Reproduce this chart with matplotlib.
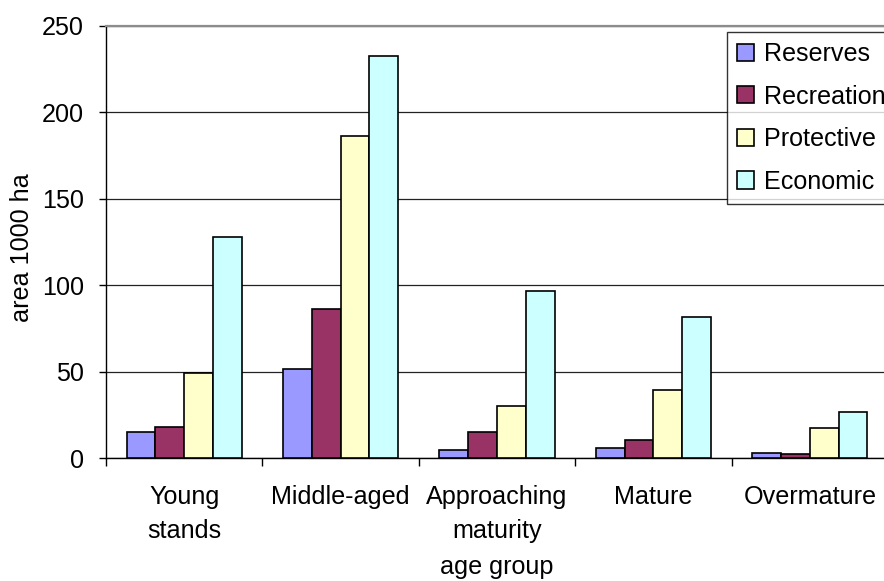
import matplotlib
matplotlib.use("Agg")
import matplotlib.pyplot as plt
import numpy as np
from matplotlib.ticker import FixedLocator, NullFormatter

plt.rcParams["font.family"] = ["Liberation Sans", "DejaVu Sans"]

# Forest area by age group and forest category (thousand ha)
age_groups = ["Young\nstands", "Middle-aged", "Approaching\nmaturity", "Mature", "Overmature"]
series_names = ["Reserves", "Recreation", "Protective", "Economic"]
reserves = [15, 51.5, 4.6, 5.8, 3.3]
recreation = [18.3, 86.2, 15, 10.4, 2.3]
protective = [49.4, 186.2, 30, 39.4, 17.3]
economic = [127.7, 232.5, 96.7, 81.9, 26.5]
y_ticks = [0, 50, 100, 150, 200, 250]

colors = ["#9999FF", "#993366", "#FFFFCC", "#CCFFFF"]
series = [reserves, recreation, protective, economic]

W, H = 884, 581
fig = plt.figure(figsize=(W / 100, H / 100), dpi=100)
ax_left, ax_right, ax_top, ax_bottom = 106, 888, 25.7, 458.3
ax = fig.add_axes([ax_left / W, 1 - ax_bottom / H,
                   (ax_right - ax_left) / W, (ax_bottom - ax_top) / H])

fs = 18.1
x = np.arange(len(age_groups))
bar_w = 0.184
for i, (vals, name, c) in enumerate(zip(series, series_names, colors)):
    ax.bar(x + (i - 1.5) * bar_w, vals, width=bar_w, color=c,
           edgecolor="black", linewidth=1.2, label=name, zorder=3)

ax.set_xlim(-0.5, len(age_groups) - 0.5)
ax.set_ylim(0, 250)

# gridlines
ax.yaxis.set_major_locator(FixedLocator(y_ticks))
ax.grid(axis="y", color="#222222", linewidth=0.9, zorder=0)
ax.grid(axis="x", visible=False)
ax.set_axisbelow(True)

# spines
ax.spines["top"].set_color("#8c8c8c")
ax.spines["top"].set_linewidth(1.6)
ax.spines["right"].set_visible(False)
ax.spines["left"].set_color("black")
ax.spines["left"].set_linewidth(1.0)
ax.spines["bottom"].set_color("black")
ax.spines["bottom"].set_linewidth(1.0)

# ticks
ax.set_xticks(x)
ax.set_xticklabels(age_groups, fontsize=fs)
for lbl in ax.get_xticklabels():
    lbl.set_linespacing(1.55)
ax.tick_params(axis="x", which="major", length=0, pad=19)
ax.xaxis.set_minor_locator(FixedLocator(np.arange(-0.5, len(age_groups), 1.0)))
ax.xaxis.set_minor_formatter(NullFormatter())
ax.tick_params(axis="x", which="minor", length=6, width=1.0, direction="out", color="black")
ax.tick_params(axis="y", length=5, width=1.0, direction="out", pad=11, labelsize=fs)

# axis labels
ax.set_xlabel("age group", fontsize=fs)
ax.xaxis.label.set_va("baseline")
ax.xaxis.set_label_coords(0.5, (ax_bottom - 574) / (ax_bottom - ax_top))
ax.set_ylabel("area 1000 ha", fontsize=fs)
ax.yaxis.label.set_va("center")
ax.yaxis.label.set_ha("center")
ax.yaxis.set_label_coords((22 - ax_left) / (ax_right - ax_left),
                          (ax_bottom - 248) / (ax_bottom - ax_top))

leg = ax.legend(loc="upper left", bbox_to_anchor=(727 / W, 1 - 32 / H),
                bbox_transform=fig.transFigure, fontsize=fs, frameon=True,
                fancybox=False, shadow=False, borderpad=0.4,
                handlelength=0.68, handleheight=0.68, handletextpad=0.38,
                labelspacing=0.74, borderaxespad=0)
leg.get_frame().set_edgecolor("black")
leg.get_frame().set_linewidth(1.0)
leg.set_zorder(5)

fig.savefig("out.png", dpi=100)
